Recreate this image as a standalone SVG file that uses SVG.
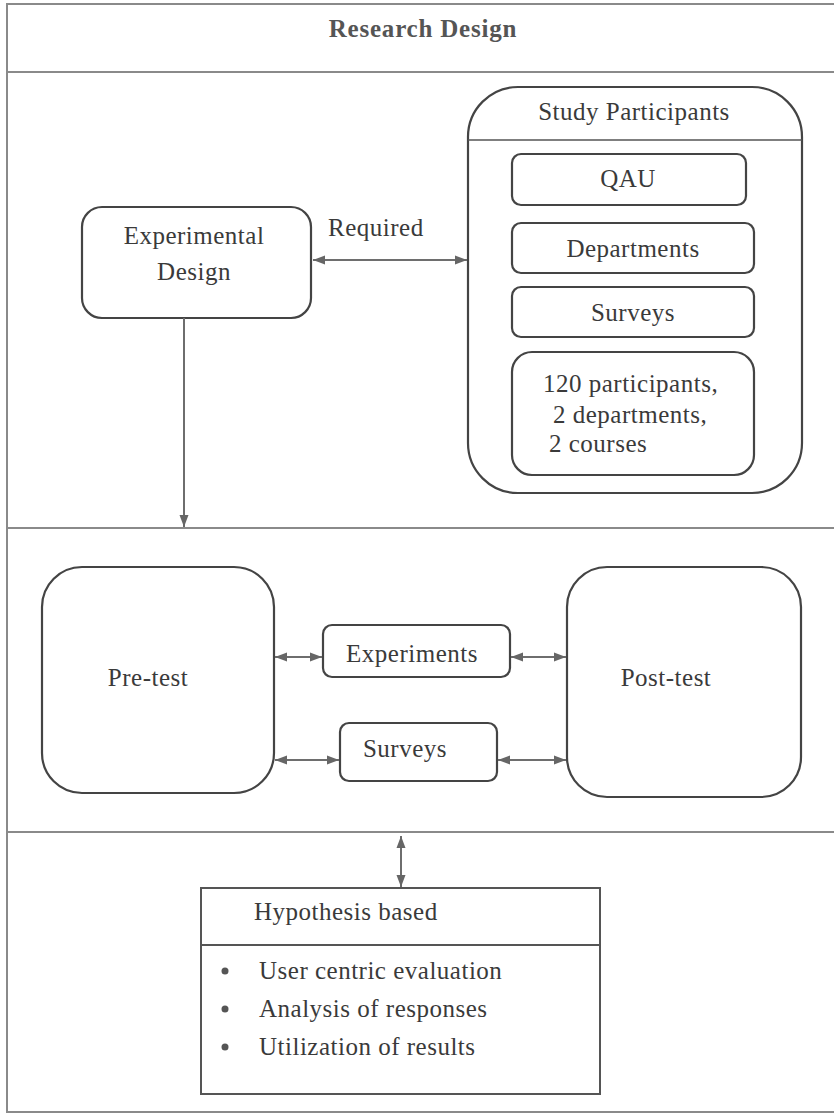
<svg xmlns="http://www.w3.org/2000/svg" width="834" height="1114" viewBox="0 0 834 1114" font-family="'Liberation Serif', 'Times New Roman', 'DejaVu Serif', serif">
<style>
text{font-family:'Liberation Serif','Times New Roman','DejaVu Serif',serif;fill:#3a3a3a;font-size:25px;letter-spacing:0.5px}
.c{text-anchor:middle}
.frame{fill:none;stroke:#8a8a8a;stroke-width:2}
.box{fill:#fff;stroke:#444;stroke-width:2.2}
.conn{stroke:#6e6e6e;stroke-width:2;fill:none}
</style>
<defs>
<marker id="ah" viewBox="0 0 12 10" refX="12" refY="5" markerWidth="12" markerHeight="10" markerUnits="userSpaceOnUse" orient="auto-start-reverse">
<path d="M0,0.5 L12,5 L0,9.5 Z" fill="#666"/>
</marker>
</defs>
<rect width="834" height="1114" fill="#fff"/>
<g id="frame">
<rect class="frame" x="7" y="4" width="840" height="1108"/>
<line class="frame" x1="7" y1="72" x2="834" y2="72"/>
<line class="frame" x1="7" y1="528" x2="834" y2="528"/>
<line class="frame" x1="7" y1="832" x2="834" y2="832"/>
<text class="c" x="423" y="37" style="font-weight:bold;font-size:25px;letter-spacing:0.8px;fill:#555">Research Design</text>
</g>
<g id="experimental-design">
<rect class="box" x="82" y="207" width="229" height="111" rx="20"/>
<text class="c" x="194" y="244">Experimental</text>
<text class="c" x="194" y="280">Design</text>
</g>
<g id="study-participants">
<rect class="box" x="468" y="87" width="334" height="406" rx="50"/>
<line x1="468" y1="140" x2="802" y2="140" stroke="#555" stroke-width="1.5"/>
<text class="c" x="634" y="120">Study Participants</text>
</g>
<g id="qau">
<rect class="box" x="512" y="154" width="234" height="51" rx="9"/>
<text class="c" x="628" y="187">QAU</text>
</g>
<g id="departments">
<rect class="box" x="512" y="223" width="242" height="50" rx="9"/>
<text class="c" x="633" y="257">Departments</text>
</g>
<g id="surveys-sp">
<rect class="box" x="512" y="287" width="242" height="50" rx="9"/>
<text class="c" x="633" y="321">Surveys</text>
</g>
<g id="participants-info">
<rect class="box" x="512" y="352" width="242" height="123" rx="20"/>
<text x="543" y="392">120 participants,</text>
<text x="553" y="423">2 departments,</text>
<text x="549" y="452">2 courses</text>
</g>
<g id="pre-test">
<rect class="box" x="42" y="567" width="232" height="226" rx="40"/>
<text class="c" x="148" y="686">Pre-test</text>
</g>
<g id="post-test">
<rect class="box" x="567" y="567" width="234" height="230" rx="40"/>
<text class="c" x="666" y="686">Post-test</text>
</g>
<g id="experiments">
<rect class="box" x="323" y="625" width="187" height="52" rx="9"/>
<text class="c" x="412" y="662">Experiments</text>
</g>
<g id="surveys">
<rect class="box" x="340" y="723" width="157" height="58" rx="9"/>
<text class="c" x="405" y="757">Surveys</text>
</g>
<g id="hypothesis">
<rect x="201" y="888" width="399" height="206" fill="#fff" stroke="#555" stroke-width="2"/>
<line x1="201" y1="945" x2="600" y2="945" stroke="#555" stroke-width="1.8"/>
<text x="254" y="920">Hypothesis based</text>
<circle cx="225" cy="971" r="3.5" fill="#555"/>
<circle cx="225" cy="1009" r="3.5" fill="#555"/>
<circle cx="225" cy="1047" r="3.5" fill="#555"/>
<text x="259" y="979">User centric evaluation</text>
<text x="259" y="1017">Analysis of responses</text>
<text x="259" y="1055">Utilization of results</text>
</g>
<g id="connectors">
<line class="conn" x1="313" y1="260" x2="467" y2="260" marker-start="url(#ah)" marker-end="url(#ah)"/>
<text x="328" y="236">Required</text>
<line class="conn" x1="184" y1="318" x2="184" y2="527" marker-end="url(#ah)"/>
<line class="conn" x1="275" y1="657" x2="322" y2="657" marker-start="url(#ah)" marker-end="url(#ah)"/>
<line class="conn" x1="511" y1="657" x2="566" y2="657" marker-start="url(#ah)" marker-end="url(#ah)"/>
<line class="conn" x1="275" y1="760" x2="339" y2="760" marker-start="url(#ah)" marker-end="url(#ah)"/>
<line class="conn" x1="498" y1="760" x2="566" y2="760" marker-start="url(#ah)" marker-end="url(#ah)"/>
<line class="conn" x1="401" y1="836" x2="401" y2="887" marker-start="url(#ah)" marker-end="url(#ah)"/>
</g>
</svg>
